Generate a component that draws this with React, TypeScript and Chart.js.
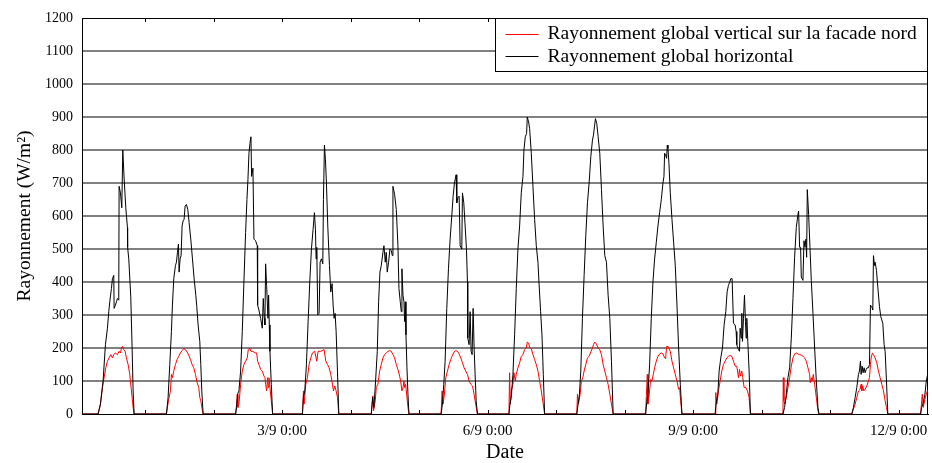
import React, { useEffect, useRef } from 'react';
import { Chart, registerables } from 'chart.js';

Chart.register(...registerables);

// Each day: [hour of day, W/m²]
const horizontal0831: [number, number][] = [[0, 0], [7.54, 0], [8.36, 30], [9.29, 100], [10.11, 210], [10.81, 260], [11.28, 310], [11.63, 340], [12.21, 380], [12.56, 410], [13.03, 420], [13.15, 320], [13.61, 330], [13.97, 340], [14.32, 350], [14.78, 345], [14.9, 690], [15.37, 670], [15.84, 625], [16.19, 800], [16.65, 715], [17.24, 625], [17.82, 565], [17.88, 505], [18.29, 470], [18.99, 355], [19.46, 200], [19.81, 70], [20.16, 0]];
const northFacade0831: [number, number][] = [[0, 0], [7.54, 0], [8.36, 30], [9.06, 80], [9.64, 110], [10.23, 140], [10.81, 160], [11.4, 170], [11.98, 180], [12.56, 170], [13.03, 180], [13.61, 185], [14.32, 180], [14.9, 190], [15.37, 185], [15.72, 200], [16.07, 205], [16.54, 195], [17.0, 190], [17.47, 170], [18.06, 150], [18.64, 120], [19.22, 70], [19.81, 20], [20.16, 0]];

const horizontal0901: [number, number][] = [[7.48, 0], [8.06, 50], [8.65, 150], [9.23, 250], [9.58, 330], [10.05, 410], [10.64, 450], [10.99, 460], [11.34, 490], [11.69, 515], [11.92, 430], [12.27, 470], [12.62, 480], [12.97, 570], [13.32, 585], [13.67, 590], [14.03, 630], [14.49, 635], [14.96, 620], [15.43, 580], [16.01, 530], [16.6, 470], [17.18, 410], [17.77, 360], [18.12, 325], [18.58, 270], [19.17, 220], [19.52, 150], [19.87, 70], [20.34, 0]];
const northFacade0901: [number, number][] = [[7.48, 0], [8.18, 40], [8.88, 70], [9.23, 120], [9.58, 110], [10.05, 130], [10.64, 150], [11.22, 165], [11.8, 175], [12.39, 185], [12.97, 192], [13.56, 198], [14.14, 195], [14.73, 188], [15.31, 178], [15.9, 165], [16.48, 150], [17.06, 140], [17.65, 120], [18.23, 95], [18.82, 80], [19.17, 50], [19.52, 40], [19.99, 15], [20.34, 0]];

const horizontal0902: [number, number][] = [[7.71, 0], [8.06, 20], [8.41, 60], [8.88, 70], [9.47, 130], [10.05, 250], [10.63, 400], [11.22, 550], [11.69, 650], [12.04, 710], [12.39, 790], [12.74, 820], [13.09, 840], [13.32, 720], [13.79, 745], [14.14, 530], [14.72, 525], [15.31, 510], [15.43, 330], [15.89, 315], [16.48, 290], [17.06, 260], [17.41, 350], [17.76, 290], [17.98, 270], [18.23, 455], [18.58, 390], [19.05, 290], [19.28, 360], [19.52, 270], [19.75, 190], [20.22, 90], [20.69, 0]];
const northFacade0902: [number, number][] = [[7.71, 0], [8.06, 30], [8.3, 60], [8.53, 20], [8.88, 30], [9.47, 90], [10.05, 130], [10.63, 150], [11.22, 160], [11.8, 170], [12.15, 195], [12.62, 200], [13.09, 190], [13.79, 190], [14.49, 185], [15.08, 185], [15.43, 160], [15.89, 150], [16.48, 135], [17.06, 130], [17.65, 115], [18.0, 110], [18.23, 90], [18.58, 70], [18.93, 110], [19.17, 80], [19.4, 110], [19.75, 80], [20.22, 40], [20.69, 0]];

const horizontal0903: [number, number][] = [[7.13, 0], [7.48, 50], [7.95, 70], [8.53, 150], [9.12, 280], [9.7, 400], [10.28, 500], [10.87, 560], [11.34, 610], [11.69, 560], [11.92, 470], [12.15, 505], [12.51, 300], [12.97, 305], [13.32, 460], [13.79, 470], [14.26, 455], [14.49, 650], [14.84, 815], [15.19, 770], [15.54, 700], [16.01, 570], [16.6, 450], [17.06, 370], [17.53, 395], [17.88, 330], [18.23, 290], [18.58, 305], [18.93, 250], [19.4, 130], [19.87, 0]];
const northFacade0903: [number, number][] = [[7.13, 0], [7.48, 70], [7.71, 30], [8.3, 90], [8.88, 110], [9.47, 150], [10.05, 170], [10.64, 185], [11.45, 190], [12.15, 160], [12.62, 190], [13.56, 190], [14.73, 195], [15.31, 160], [15.89, 150], [16.48, 140], [17.06, 120], [17.65, 90], [18.0, 70], [18.47, 85], [18.93, 70], [19.4, 50], [19.87, 0]];

const horizontal0904: [number, number][] = [[7.25, 0], [7.71, 50], [8.18, 20], [8.76, 100], [9.35, 190], [9.82, 340], [10.28, 430], [10.75, 450], [11.34, 490], [11.69, 510], [12.15, 460], [12.5, 490], [12.85, 430], [13.32, 460], [13.79, 500], [14.26, 495], [14.61, 480], [14.84, 690], [15.43, 665], [16.01, 620], [16.59, 510], [16.95, 380], [17.41, 340], [17.76, 310], [17.99, 440], [18.35, 360], [18.7, 340], [18.93, 280], [19.17, 340], [19.4, 240], [19.75, 140], [20.1, 60], [20.45, 0]];
const northFacade0904: [number, number][] = [[7.25, 0], [7.83, 55], [8.06, 10], [8.65, 40], [9.0, 80], [9.58, 90], [10.17, 130], [10.75, 150], [11.34, 170], [11.92, 180], [12.5, 185], [13.09, 190], [13.67, 192], [14.26, 190], [14.84, 180], [15.43, 170], [16.01, 150], [16.59, 135], [17.18, 115], [17.53, 100], [18.0, 70], [18.35, 80], [18.7, 100], [18.93, 80], [19.28, 90], [19.63, 60], [20.1, 20], [20.45, 0]];

const horizontal0905: [number, number][] = [[7.71, 0], [8.18, 30], [8.65, 90], [9.12, 160], [9.7, 320], [10.29, 440], [10.87, 530], [11.45, 600], [11.92, 660], [12.39, 700], [12.74, 715], [12.97, 725], [13.21, 640], [13.56, 655], [14.03, 660], [14.38, 510], [14.96, 500], [15.19, 670], [15.66, 640], [16.13, 570], [16.6, 500], [16.95, 400], [17.06, 230], [17.53, 210], [17.88, 310], [18.23, 190], [18.58, 180], [18.93, 320], [19.28, 200], [19.63, 120], [19.99, 40], [20.45, 0]];
const northFacade0905: [number, number][] = [[7.71, 0], [8.06, 70], [8.41, 30], [8.88, 60], [9.35, 110], [9.93, 130], [10.52, 150], [11.1, 165], [11.69, 178], [12.27, 188], [12.86, 192], [13.44, 190], [14.03, 182], [14.61, 170], [15.19, 155], [15.78, 140], [16.36, 130], [16.95, 120], [17.53, 100], [18.12, 90], [18.7, 85], [19.05, 70], [19.63, 40], [20.45, 0]];

const horizontal0906: [number, number][] = [[7.48, 0], [7.83, 30], [8.3, 50], [8.88, 120], [9.47, 240], [10.05, 380], [10.63, 500], [11.22, 570], [11.8, 670], [12.39, 720], [12.74, 800], [13.21, 840], [13.67, 850], [13.91, 900], [14.37, 885], [14.73, 865], [15.31, 790], [15.89, 690], [16.48, 590], [17.06, 510], [17.65, 460], [18.0, 400], [18.58, 310], [19.05, 240], [19.52, 120], [19.98, 0]];
const northFacade0906: [number, number][] = [[7.48, 0], [7.71, 125], [7.95, 30], [8.3, 70], [8.88, 90], [9.23, 125], [9.7, 100], [10.05, 120], [10.63, 140], [11.22, 155], [11.8, 175], [12.39, 180], [12.97, 195], [13.56, 200], [13.91, 218], [14.37, 215], [14.73, 202], [15.31, 198], [15.89, 180], [16.48, 165], [17.06, 150], [17.65, 130], [18.23, 100], [18.82, 70], [19.4, 35], [19.98, 0]];

const horizontal0907: [number, number][] = [[7.25, 0], [7.71, 30], [8.18, 60], [8.65, 130], [9.23, 290], [9.82, 420], [10.4, 540], [10.99, 640], [11.57, 700], [12.16, 780], [12.74, 830], [13.09, 845], [13.44, 870], [13.79, 895], [14.26, 880], [14.73, 840], [15.31, 790], [15.9, 680], [16.48, 570], [17.06, 480], [17.65, 460], [18.23, 360], [18.82, 290], [19.4, 160], [19.99, 0]];
const northFacade0907: [number, number][] = [[7.25, 0], [7.48, 60], [7.83, 30], [8.42, 60], [8.88, 100], [9.35, 110], [9.82, 130], [10.4, 150], [10.99, 170], [11.57, 175], [12.16, 188], [12.74, 200], [13.09, 210], [13.56, 218], [14.14, 212], [14.73, 200], [15.31, 195], [15.9, 180], [16.48, 150], [17.06, 130], [17.65, 110], [18.23, 90], [18.82, 60], [19.4, 30], [19.99, 0]];

const horizontal0908: [number, number][] = [[7.36, 0], [7.95, 50], [8.18, 60], [8.77, 150], [9.35, 290], [9.93, 400], [10.52, 470], [11.1, 520], [11.69, 570], [12.27, 610], [12.86, 650], [13.44, 700], [13.79, 720], [14.02, 790], [14.37, 785], [14.73, 775], [14.96, 815], [15.19, 805], [15.54, 760], [16.01, 670], [16.6, 590], [17.18, 520], [17.76, 450], [18.35, 330], [18.93, 200], [19.52, 90], [20.1, 0]];
const northFacade0908: [number, number][] = [[7.36, 0], [7.95, 120], [8.18, 30], [8.65, 60], [9.12, 105], [9.58, 100], [10.05, 120], [10.52, 140], [11.1, 160], [11.69, 175], [12.27, 182], [12.86, 185], [13.44, 182], [14.02, 170], [14.37, 168], [14.73, 205], [15.19, 205], [15.43, 200], [16.01, 190], [16.6, 160], [17.18, 140], [17.76, 120], [18.35, 100], [18.93, 75], [19.28, 80], [19.63, 40], [20.1, 0]];

const horizontal0909: [number, number][] = [[7.71, 0], [8.06, 30], [8.65, 60], [9.12, 130], [9.7, 170], [10.29, 200], [10.87, 270], [11.45, 310], [11.92, 370], [12.39, 390], [12.86, 400], [13.21, 410], [13.67, 410], [13.91, 410], [14.14, 275], [14.73, 270], [15.08, 250], [15.31, 210], [15.9, 195], [16.25, 190], [16.48, 260], [16.83, 230], [17.06, 305], [17.3, 220], [17.65, 290], [18.0, 360], [18.35, 280], [18.58, 230], [18.82, 290], [19.17, 220], [19.63, 130], [20.1, 0]];
const northFacade0909: [number, number][] = [[7.71, 0], [7.95, 65], [8.3, 30], [8.88, 70], [9.47, 100], [10.05, 130], [10.64, 150], [11.22, 160], [11.8, 170], [12.39, 175], [12.97, 177], [13.56, 175], [14.14, 160], [14.73, 145], [15.31, 145], [15.9, 110], [16.25, 135], [16.6, 115], [17.06, 130], [17.41, 110], [17.88, 80], [18.47, 80], [19.05, 70], [19.63, 50], [20.1, 0]];

const horizontal0910: [number, number][] = [[7.48, 0], [8.06, 20], [8.65, 60], [9.23, 110], [9.82, 140], [10.4, 230], [10.99, 350], [11.57, 475], [12.15, 565], [12.74, 605], [12.97, 615], [13.32, 505], [13.67, 505], [13.91, 415], [14.49, 405], [14.84, 525], [15.19, 505], [15.54, 530], [15.78, 475], [16.01, 680], [16.48, 605], [16.95, 505], [17.41, 405], [18.0, 305], [18.58, 200], [19.17, 100], [19.75, 20], [20.1, 0]];
const northFacade0910: [number, number][] = [[7.48, 0], [7.6, 110], [7.83, 40], [8.06, 30], [8.65, 50], [9.23, 80], [9.82, 110], [10.4, 145], [10.99, 170], [11.57, 182], [12.15, 185], [12.74, 182], [13.32, 180], [13.91, 178], [14.49, 175], [15.08, 170], [15.66, 160], [16.24, 140], [16.83, 120], [17.06, 95], [17.41, 110], [17.76, 100], [18.11, 120], [18.58, 90], [19.17, 50], [19.75, 10], [20.1, 0]];

const horizontal0911: [number, number][] = [[7.6, 0], [8.18, 20], [8.77, 50], [9.35, 80], [9.93, 120], [10.28, 130], [10.64, 160], [10.87, 120], [11.22, 145], [11.57, 125], [11.92, 140], [12.27, 125], [12.62, 135], [12.97, 140], [13.44, 140], [13.79, 150], [14.14, 330], [14.61, 325], [14.96, 315], [15.19, 480], [15.54, 450], [15.78, 460], [16.25, 435], [16.71, 385], [17.3, 325], [17.76, 295], [18.11, 285], [18.46, 275], [18.93, 210], [19.28, 190], [19.75, 100], [20.22, 0]];
const northFacade0911: [number, number][] = [[7.6, 0], [8.18, 15], [8.77, 30], [9.35, 50], [9.93, 70], [10.52, 75], [10.87, 90], [11.1, 70], [11.45, 85], [11.8, 70], [12.27, 75], [12.86, 85], [13.44, 100], [13.79, 110], [14.14, 150], [14.38, 170], [14.84, 185], [15.19, 180], [15.78, 170], [16.36, 155], [16.95, 130], [17.53, 110], [18.11, 90], [18.7, 70], [19.28, 40], [19.75, 20], [20.22, 0]];

const horizontal0912: [number, number][] = [[7.71, 0], [8.06, 20], [8.53, 30], [9.23, 60], [9.7, 100], [10.17, 120], [10.75, 140]];
const northFacade0912: [number, number][] = [[7.71, 0], [8.3, 60], [8.65, 20], [9.23, 45], [10.05, 70], [10.75, 70]];

// Hours since 1/9 0:00 at which each day begins (31/8 … 12/9)
const dayStartHours = [-24, 0, 24, 48, 72, 96, 120, 144, 168, 192, 216, 240, 264];
const horizontalDays = [horizontal0831, horizontal0901, horizontal0902, horizontal0903, horizontal0904, horizontal0905, horizontal0906, horizontal0907, horizontal0908, horizontal0909, horizontal0910, horizontal0911, horizontal0912];
const northDays = [northFacade0831, northFacade0901, northFacade0902, northFacade0903, northFacade0904, northFacade0905, northFacade0906, northFacade0907, northFacade0908, northFacade0909, northFacade0910, northFacade0911, northFacade0912];

// Axis
const xMinHours = -22.1;
const xMaxHours = 274.3;
const dayTickHours = [0, 24, 48, 72, 96, 120, 144, 168, 192, 216, 240, 264];
const labelHours = [48, 120, 192, 264];
const tickLabels = ['3/9 0:00', '6/9 0:00', '9/9 0:00', '12/9 0:00'];

const seriesLabels = ['Rayonnement global vertical sur la facade nord', 'Rayonnement global horizontal'];
const seriesColors = ['#ff0000', '#000000'];

const FONT = '"Liberation Serif", "Times New Roman", serif';

function toPoints(days: [number, number][][]) {
  const pts: { x: number; y: number }[] = [];
  days.forEach((arr, i) => arr.forEach(([h, v]) => pts.push({ x: dayStartHours[i] + h, y: v })));
  return pts;
}

const framePlugin = {
  id: 'frameTicks',
  beforeDatasetsDraw(chart: any) {
    const { ctx, chartArea: a, scales } = chart;
    ctx.save();
    ctx.strokeStyle = '#000';
    ctx.lineWidth = 1;
    ctx.strokeRect(a.left + 0.5, a.top + 0.5, a.right - a.left - 1, a.bottom - a.top);
    const xs = scales.x;
    ctx.beginPath();
    for (const h of dayTickHours) {
      const px = Math.round(xs.getPixelForValue(h)) + 0.5;
      ctx.moveTo(px, a.bottom);
      ctx.lineTo(px, a.bottom - 4);
      ctx.moveTo(px, a.top);
      ctx.lineTo(px, a.top + 4);
    }
    ctx.stroke();
    ctx.restore();
  },
};

const boxLegendPlugin = {
  id: 'boxLegend',
  afterDraw(chart: any) {
    const { ctx, chartArea: a } = chart;
    const w = 432;
    const h = 53;
    const left = Math.round(a.right) - w - 0.5;
    const top = Math.round(a.top) + 0.5;
    ctx.save();
    ctx.fillStyle = '#fff';
    ctx.fillRect(left, top, w, h);
    ctx.strokeStyle = '#000';
    ctx.lineWidth = 1;
    ctx.strokeRect(left, top, w, h);
    ctx.font = `19.5px ${FONT}`;
    ctx.textBaseline = 'middle';
    ctx.textAlign = 'left';
    const rows = [15.5, 38];
    seriesLabels.forEach((label, i) => {
      const y = top + rows[i];
      ctx.fillStyle = seriesColors[i];
      ctx.fillRect(left + 10, Math.floor(y), 33, 1);
      ctx.fillStyle = '#000';
      ctx.fillText(label, left + 52, y);
    });
    ctx.restore();
  },
};

export default function App() {
  const ref = useRef<HTMLCanvasElement | null>(null);

  useEffect(() => {
    if (!ref.current) return;
    const chart = new Chart(ref.current, {
      type: 'line',
      data: {
        datasets: [
          {
            label: seriesLabels[0],
            data: toPoints(northDays),
            borderColor: seriesColors[0],
            borderWidth: 1,
            pointRadius: 0,
            tension: 0,
            order: 1,
          },
          {
            label: seriesLabels[1],
            data: toPoints(horizontalDays),
            borderColor: seriesColors[1],
            borderWidth: 1,
            pointRadius: 0,
            tension: 0,
            order: 0,
          },
        ],
      },
      options: {
        animation: false,
        responsive: false,
        events: [],
        layout: { padding: { left: 0, right: 4, top: 18, bottom: 0 } },
        plugins: { legend: { display: false }, tooltip: { enabled: false } },
        scales: {
          x: {
            type: 'linear',
            min: xMinHours,
            max: xMaxHours,
            afterBuildTicks: (s: any) => {
              s.ticks = dayTickHours.map((v) => ({ value: v }));
            },
            afterFit: (s: any) => {
              s.height = 49;
              s.paddingLeft = 0;
              s.paddingRight = 0;
            },
            grid: { display: false, drawTicks: false },
            border: { display: true, color: '#000', width: 1 },
            ticks: {
              autoSkip: false,
              maxRotation: 0,
              padding: 8,
              color: '#000',
              font: { family: FONT, size: 15 },
              callback: (v: any) => {
                const i = labelHours.indexOf(Number(v));
                return i >= 0 ? tickLabels[i] : '';
              },
            },
            title: {
              display: true,
              text: 'Date',
              color: '#000',
              font: { family: FONT, size: 20, lineHeight: 1 },
              padding: { top: 0, bottom: 0 },
            },
          },
          y: {
            min: 0,
            max: 1200,
            afterFit: (s: any) => {
              s.width = 82;
            },
            ticks: {
              stepSize: 100,
              padding: 9,
              color: '#000',
              font: { family: FONT, size: 14 },
              callback: (v: any) => String(v),
            },
            grid: {
              drawTicks: false,
              color: (c: any) => (c.tick && (c.tick.value === 0 || c.tick.value === 1200) ? '#000' : '#808080'),
              lineWidth: (c: any) => (c.tick && (c.tick.value === 0 || c.tick.value === 1200) ? 1 : 2),
            },
            border: { display: true, color: '#000', width: 1 },
            title: {
              display: true,
              text: 'Rayonnement (W/m²)',
              color: '#000',
              font: { family: FONT, size: 19.5, lineHeight: 1 },
              padding: { top: 15, bottom: 0 },
            },
          },
        },
      },
      plugins: [framePlugin, boxLegendPlugin],
    } as any);
    return () => chart.destroy();
  }, []);

  return (
    <div style={{ position: 'absolute', left: 0, top: 0, width: 932, height: 463, background: '#fff' }}>
      <canvas ref={ref} width={932} height={463} style={{ display: 'block', width: 932, height: 463 }} />
    </div>
  );
}
